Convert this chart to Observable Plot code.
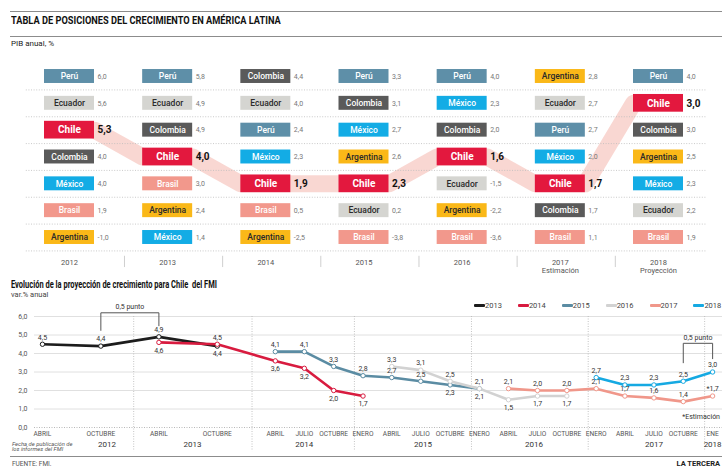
<!DOCTYPE html>
<html><head><meta charset="utf-8">
<script src="https://cdn.jsdelivr.net/npm/d3@7"></script>
<script src="https://cdn.jsdelivr.net/npm/@observablehq/plot@0.6"></script>
<style>
body{margin:0;background:#fff;}
#root{position:relative;width:728px;height:469px;overflow:hidden;font-family:Roboto,"Noto Sans",sans-serif;background:#fff;}
.abs{position:absolute;white-space:nowrap;line-height:1;}
.rule{position:absolute;left:10px;width:712px;height:0;border-top:1px solid #8c8c8c;}
.sq{transform-origin:0 50%;}
#legend{position:absolute;left:474px;top:302px;display:flex;gap:16px;font-size:7.5px;color:#444;line-height:1;}
#legend .it{display:flex;align-items:center;}
#legend .bar{width:11px;height:3px;display:inline-block;border-radius:1px;}
</style></head><body>
<div id="root">
  <div id="chartTop" class="abs" style="left:0;top:0"></div>
  <div id="chartBottom" class="abs" style="left:0;top:280px"></div>
  <div class="rule" style="top:11px"></div>
  <div class="abs sq" style="left:11px;top:15px;font-size:11px;font-weight:bold;color:#111;transform:scaleX(0.84)">TABLA DE POSICIONES DEL CRECIMIENTO EN AMÉRICA LATINA</div>
  <div class="rule" style="top:36px"></div>
  <div class="abs" style="left:11px;top:40px;font-size:8px;color:#222">PIB anual, %</div>
  <div class="abs sq" style="left:11px;top:280px;font-size:10px;font-weight:bold;color:#111;transform:scaleX(0.75)">Evolución de la proyección de crecimiento para Chile&nbsp; del FMI</div>
  <div class="abs" style="left:11px;top:291px;font-size:7.5px;color:#444">var.% anual</div>
  <div id="legend"></div>
  <div class="abs" style="right:8px;top:414px;font-size:7px;color:#333">*Estimación</div>
  <div class="abs" style="left:12px;top:442px;font-size:5.8px;color:#555;font-style:italic;line-height:5px">Fecha de publicación de<br>los informes del FMI</div>
  <div class="rule" style="top:456px"></div>
  <div class="abs" style="left:12px;top:461px;font-size:6.5px;color:#555">FUENTE: FMI.</div>
  <div class="abs" style="right:8px;top:460px;font-size:7.5px;font-weight:bold;color:#222">LA TERCERA</div>
</div>
<script>
// ---------- Tabla de posiciones (PIB anual, %) ----------
const anios = [2012, 2013, 2014, 2015, 2016, 2017, 2018];
const notaAnio = ["", "", "", "", "", "Estimación", "Proyección"];
const paises2012 = ["Perú", "Ecuador", "Chile", "Colombia", "México", "Brasil", "Argentina"];
const pib2012 = [6.0, 5.6, 5.3, 4.0, 4.0, 1.9, -1.0];
const paises2013 = ["Perú", "Ecuador", "Colombia", "Chile", "Brasil", "Argentina", "México"];
const pib2013 = [5.8, 4.9, 4.9, 4.0, 3.0, 2.4, 1.4];
const paises2014 = ["Colombia", "Ecuador", "Perú", "México", "Chile", "Brasil", "Argentina"];
const pib2014 = [4.4, 4.0, 2.4, 2.3, 1.9, 0.5, -2.5];
const paises2015 = ["Perú", "Colombia", "México", "Argentina", "Chile", "Ecuador", "Brasil"];
const pib2015 = [3.3, 3.1, 2.7, 2.6, 2.3, 0.2, -3.8];
const paises2016 = ["Perú", "México", "Colombia", "Chile", "Ecuador", "Argentina", "Brasil"];
const pib2016 = [4.0, 2.3, 2.0, 1.6, -1.5, -2.2, -3.6];
const paises2017 = ["Argentina", "Ecuador", "Perú", "México", "Chile", "Colombia", "Brasil"];
const pib2017 = [2.8, 2.7, 2.7, 2.0, 1.7, 1.7, 1.1];
const paises2018 = ["Perú", "Chile", "Colombia", "Argentina", "México", "Ecuador", "Brasil"];
const pib2018 = [4.0, 3.0, 3.0, 2.5, 2.3, 2.2, 1.9];

// ---------- Proyecciones del FMI para Chile ----------
const fechasInforme = ["2012-04","2012-10","2013-04","2013-10","2014-04","2014-07","2014-10","2015-01","2015-04","2015-07","2015-10","2016-01","2016-04","2016-07","2016-10","2017-01","2017-04","2017-07","2017-10","2018-01"];
const mesEtiquetas = ["ABRIL","OCTUBRE","ABRIL","OCTUBRE","ABRIL","JULIO","OCTUBRE","ENERO","ABRIL","JULIO","OCTUBRE","ENERO","ABRIL","JULIO","OCTUBRE","ENERO","ABRIL","JULIO","OCTUBRE","ENE"];
const proy2013 = [4.5,4.4,4.9,4.4,null,null,null,null,null,null,null,null,null,null,null,null,null,null,null,null];
const proy2014 = [null,null,4.6,4.5,3.6,3.2,2.0,1.7,null,null,null,null,null,null,null,null,null,null,null,null];
const proy2015 = [null,null,null,null,4.1,4.1,3.3,2.8,2.7,2.5,2.3,2.1,null,null,null,null,null,null,null,null];
const proy2016 = [null,null,null,null,null,null,null,null,3.3,3.1,2.5,2.1,1.5,1.7,1.7,null,null,null,null,null];
const proy2017 = [null,null,null,null,null,null,null,null,null,null,null,null,2.1,2.0,2.0,2.1,1.7,1.6,1.4,1.7];
const proy2018 = [null,null,null,null,null,null,null,null,null,null,null,null,null,null,null,2.7,2.3,2.3,2.5,3.0];
const seriesNombres = ["2013","2014","2015","2016","2017","2018"];
const ejeAnios = ["2012","2013","2014","2015","2016","2017","2018"];
const ejeAniosFecha = ["2012-10-20","2013-07-15","2014-07-01","2015-07-08","2016-06-20","2017-07-01","2018-01-01"];
const divisoresAnio = ["2013-01-12","2014-01-18","2014-12-05","2015-12-07","2016-12-07","2017-12-07"];
const estimado = {serie: "2017", fecha: "2018-01"};

// ---------- estilos ----------
const colorPais = {"Perú":"#5e8fa8","Ecuador":"#d5d5d1","Chile":"#e3183e","Colombia":"#5a5a5a","México":"#13ace5","Brasil":"#f2988c","Argentina":"#fab818"};
const textoOscuro = new Set(["Ecuador","Argentina"]);
const colorSerie = {"2013":"#1c1c1c","2014":"#d81b3f","2015":"#5b8ca3","2016":"#d2d2d2","2017":"#f0978a","2018":"#15a9e2"};
const fmt = v => v.toFixed(1).replace(".", ",");

// ---------- Gráfico superior ----------
const paisesPorAnio = [paises2012, paises2013, paises2014, paises2015, paises2016, paises2017, paises2018];
const pibPorAnio = [pib2012, pib2013, pib2014, pib2015, pib2016, pib2017, pib2018];
const filas = anios.flatMap((a, i) => paisesPorAnio[i].map((p, j) => ({anio: a, rank: j + 1, pais: p, valor: pibPorAnio[i][j]})));
const chile = filas.filter(d => d.pais === "Chile");
const otros = filas.filter(d => d.pais !== "Chile");
const BW = 25 / 98.17;
// banda: desde el borde derecho de cada caja de Chile hasta el borde izquierdo de la siguiente
const banda = chile.flatMap(d => [{x: d.anio - BW, y: d.rank}, {x: d.anio + BW, y: d.rank}]).slice(1, -1);
const separadores = d3.range(1.5, 8, 1);

const plotTop = Plot.plot({
  width: 728, height: 280, marginTop: 0, marginBottom: 0, marginLeft: 0, marginRight: 0,
  x: {domain: [anios[0], anios[anios.length - 1]], range: [69, 658], axis: null},
  y: {domain: [1, 7], range: [76, 237], axis: null},
  color: {type: "identity"},
  style: {background: "transparent", fontFamily: "Roboto, sans-serif", overflow: "visible"},
  marks: [
    Plot.line(banda, {x: "x", y: "y", stroke: "#f7c6bf", strokeOpacity: 0.7, strokeWidth: 17, strokeLinejoin: "round"}),
    Plot.ruleY(separadores, {x1: anios[0] - 0.44, x2: anios[anios.length - 1] + 0.49, stroke: "#bdbdbd", strokeDasharray: "1,1.6", strokeWidth: 0.8}),
    Plot.rect(otros, {x1: d => d.anio - BW, x2: d => d.anio + BW, y1: d => d.rank - 0.26, y2: d => d.rank + 0.26, fill: d => colorPais[d.pais]}),
    Plot.rect(chile, {x1: d => d.anio - BW, x2: d => d.anio + BW, y1: d => d.rank - 0.33, y2: d => d.rank + 0.33, fill: d => colorPais[d.pais]}),
    Plot.text(otros, {x: "anio", y: "rank", text: "pais", fill: d => textoOscuro.has(d.pais) ? "#2a2a2a" : "#ffffff", fontSize: 8.5, fontWeight: 500}),
    Plot.text(chile, {x: "anio", y: "rank", text: "pais", fill: "#ffffff", fontSize: 10, fontWeight: "bold"}),
    Plot.text(otros, {x: d => d.anio + BW, y: "rank", text: d => fmt(d.valor), textAnchor: "start", dx: 3, fill: "#777", fontSize: 7}),
    Plot.text(chile, {x: d => d.anio + BW, y: "rank", text: d => fmt(d.valor), textAnchor: "start", dx: 3, fill: "#111", fontSize: 10, fontWeight: "bold"}),
    Plot.text(anios, {x: d => d, y: d => 7.78, text: (d, i) => notaAnio[i] ? `${d}\n${notaAnio[i]}` : `${d}`, lineAnchor: "top", lineHeight: 1.15, fill: "#555", fontSize: 7.5}),
    Plot.ruleX(anios.slice(0, -1), {x: d => d + 0.56, y1: 7.7, y2: 8.12, stroke: "#cfcfcf"})
  ]
});
document.getElementById("chartTop").appendChild(plotTop);

// ---------- Gráfico inferior ----------
const parse = d3.utcParse("%Y-%m");
const parseDia = d3.utcParse("%Y-%m-%d");
const proyecciones = [proy2013, proy2014, proy2015, proy2016, proy2017, proy2018];
const etiquetaAbajo = {"2013": [3], "2014": [2, 4, 5, 6, 7], "2015": [10, 11], "2016": [12, 13, 14]};
const puntos = seriesNombres.flatMap((s, k) => proyecciones[k].map((v, i) => v == null ? null : ({
  serie: s, fecha: parse(fechasInforme[i]), valor: v, color: colorSerie[s],
  abajo: (etiquetaAbajo[s] || []).includes(i),
  texto: (s === estimado.serie && fechasInforme[i] === estimado.fecha ? "*" : "") + fmt(v)
})).filter(Boolean));

const corchetes = [
  {desde: "2012-10", hasta: "2013-04", arriba: 6.2, pieIzq: 5.25, pieDer: 5.5},
  {desde: "2017-10", hasta: "2018-01", arriba: 4.55, pieIzq: 3.5, pieDer: 3.72}
];
const corchetePts = corchetes.flatMap((c, k) => [
  {k, x: parse(c.desde), y: c.pieIzq}, {k, x: parse(c.desde), y: c.arriba},
  {k, x: parse(c.hasta), y: c.arriba}, {k, x: parse(c.hasta), y: c.pieDer}
]);
const corcheteTxt = corchetes.map(c => ({x: new Date((+parse(c.desde) + +parse(c.hasta)) / 2), y: c.arriba}));

const plotBottom = Plot.plot({
  width: 728, height: 189, marginTop: 36, marginBottom: 42, marginLeft: 34, marginRight: 6,
  x: {type: "utc", domain: [new Date(Date.UTC(2012, 2, 7)), new Date(Date.UTC(2018, 1, 1))], axis: null},
  y: {domain: [0, 6], axis: null},
  color: {type: "identity"},
  style: {background: "transparent", fontFamily: "Roboto, sans-serif", overflow: "visible"},
  marks: [
    Plot.ruleY([1, 2, 3, 4, 5, 6], {stroke: "#e0e0e0", strokeWidth: 1}),
    Plot.ruleY([0], {stroke: "#b8b8b8", strokeDasharray: "1,1.5"}),
    Plot.ruleX(divisoresAnio, {x: d => parseDia(d), y1: 6, y2: -1.3, stroke: "#b5b5b5", strokeDasharray: "1,1.5", strokeWidth: 0.8}),
    Plot.axisY({ticks: [0, 1, 2, 3, 4, 5, 6], tickSize: 0, tickPadding: 7, tickFormat: fmt, fontSize: 7, color: "#555"}),
    Plot.line(corchetePts, {x: "x", y: "y", z: "k", stroke: "#555", strokeWidth: 1}),
    Plot.text(corcheteTxt, {x: "x", y: "y", text: () => "0,5 punto", dy: -6, fontSize: 7, fill: "#333"}),
    Plot.line(puntos, {x: "fecha", y: "valor", z: "serie", stroke: "color", strokeWidth: 2.6, curve: "linear"}),
    Plot.dot(puntos, {x: "fecha", y: "valor", r: 2.2, fill: "#fff", stroke: "color", strokeWidth: 1}),
    Plot.text(puntos.filter(d => !d.abajo), {x: "fecha", y: "valor", text: "texto", dy: -7, fontSize: 7, fill: "#333"}),
    Plot.text(puntos.filter(d => d.abajo), {x: "fecha", y: "valor", text: "texto", dy: 8, fontSize: 7, fill: "#333"}),
    Plot.text(fechasInforme, {x: d => parse(d), text: (d, i) => mesEtiquetas[i], frameAnchor: "bottom", dy: 8, fontSize: 6.6, fill: "#555"}),
    Plot.text(ejeAnios, {x: (d, i) => parseDia(ejeAniosFecha[i]), text: d => d, frameAnchor: "bottom", dy: 19.5, fontSize: 8, fill: "#333"})
  ]
});
document.getElementById("chartBottom").appendChild(plotBottom);

// ---------- Leyenda ----------
const leg = document.getElementById("legend");
seriesNombres.forEach(s => {
  const it = document.createElement("span");
  it.className = "it";
  it.innerHTML = `<span class="bar" style="background:${colorSerie[s]}"></span><span>${s}</span>`;
  leg.appendChild(it);
});
</script>
</body></html>
